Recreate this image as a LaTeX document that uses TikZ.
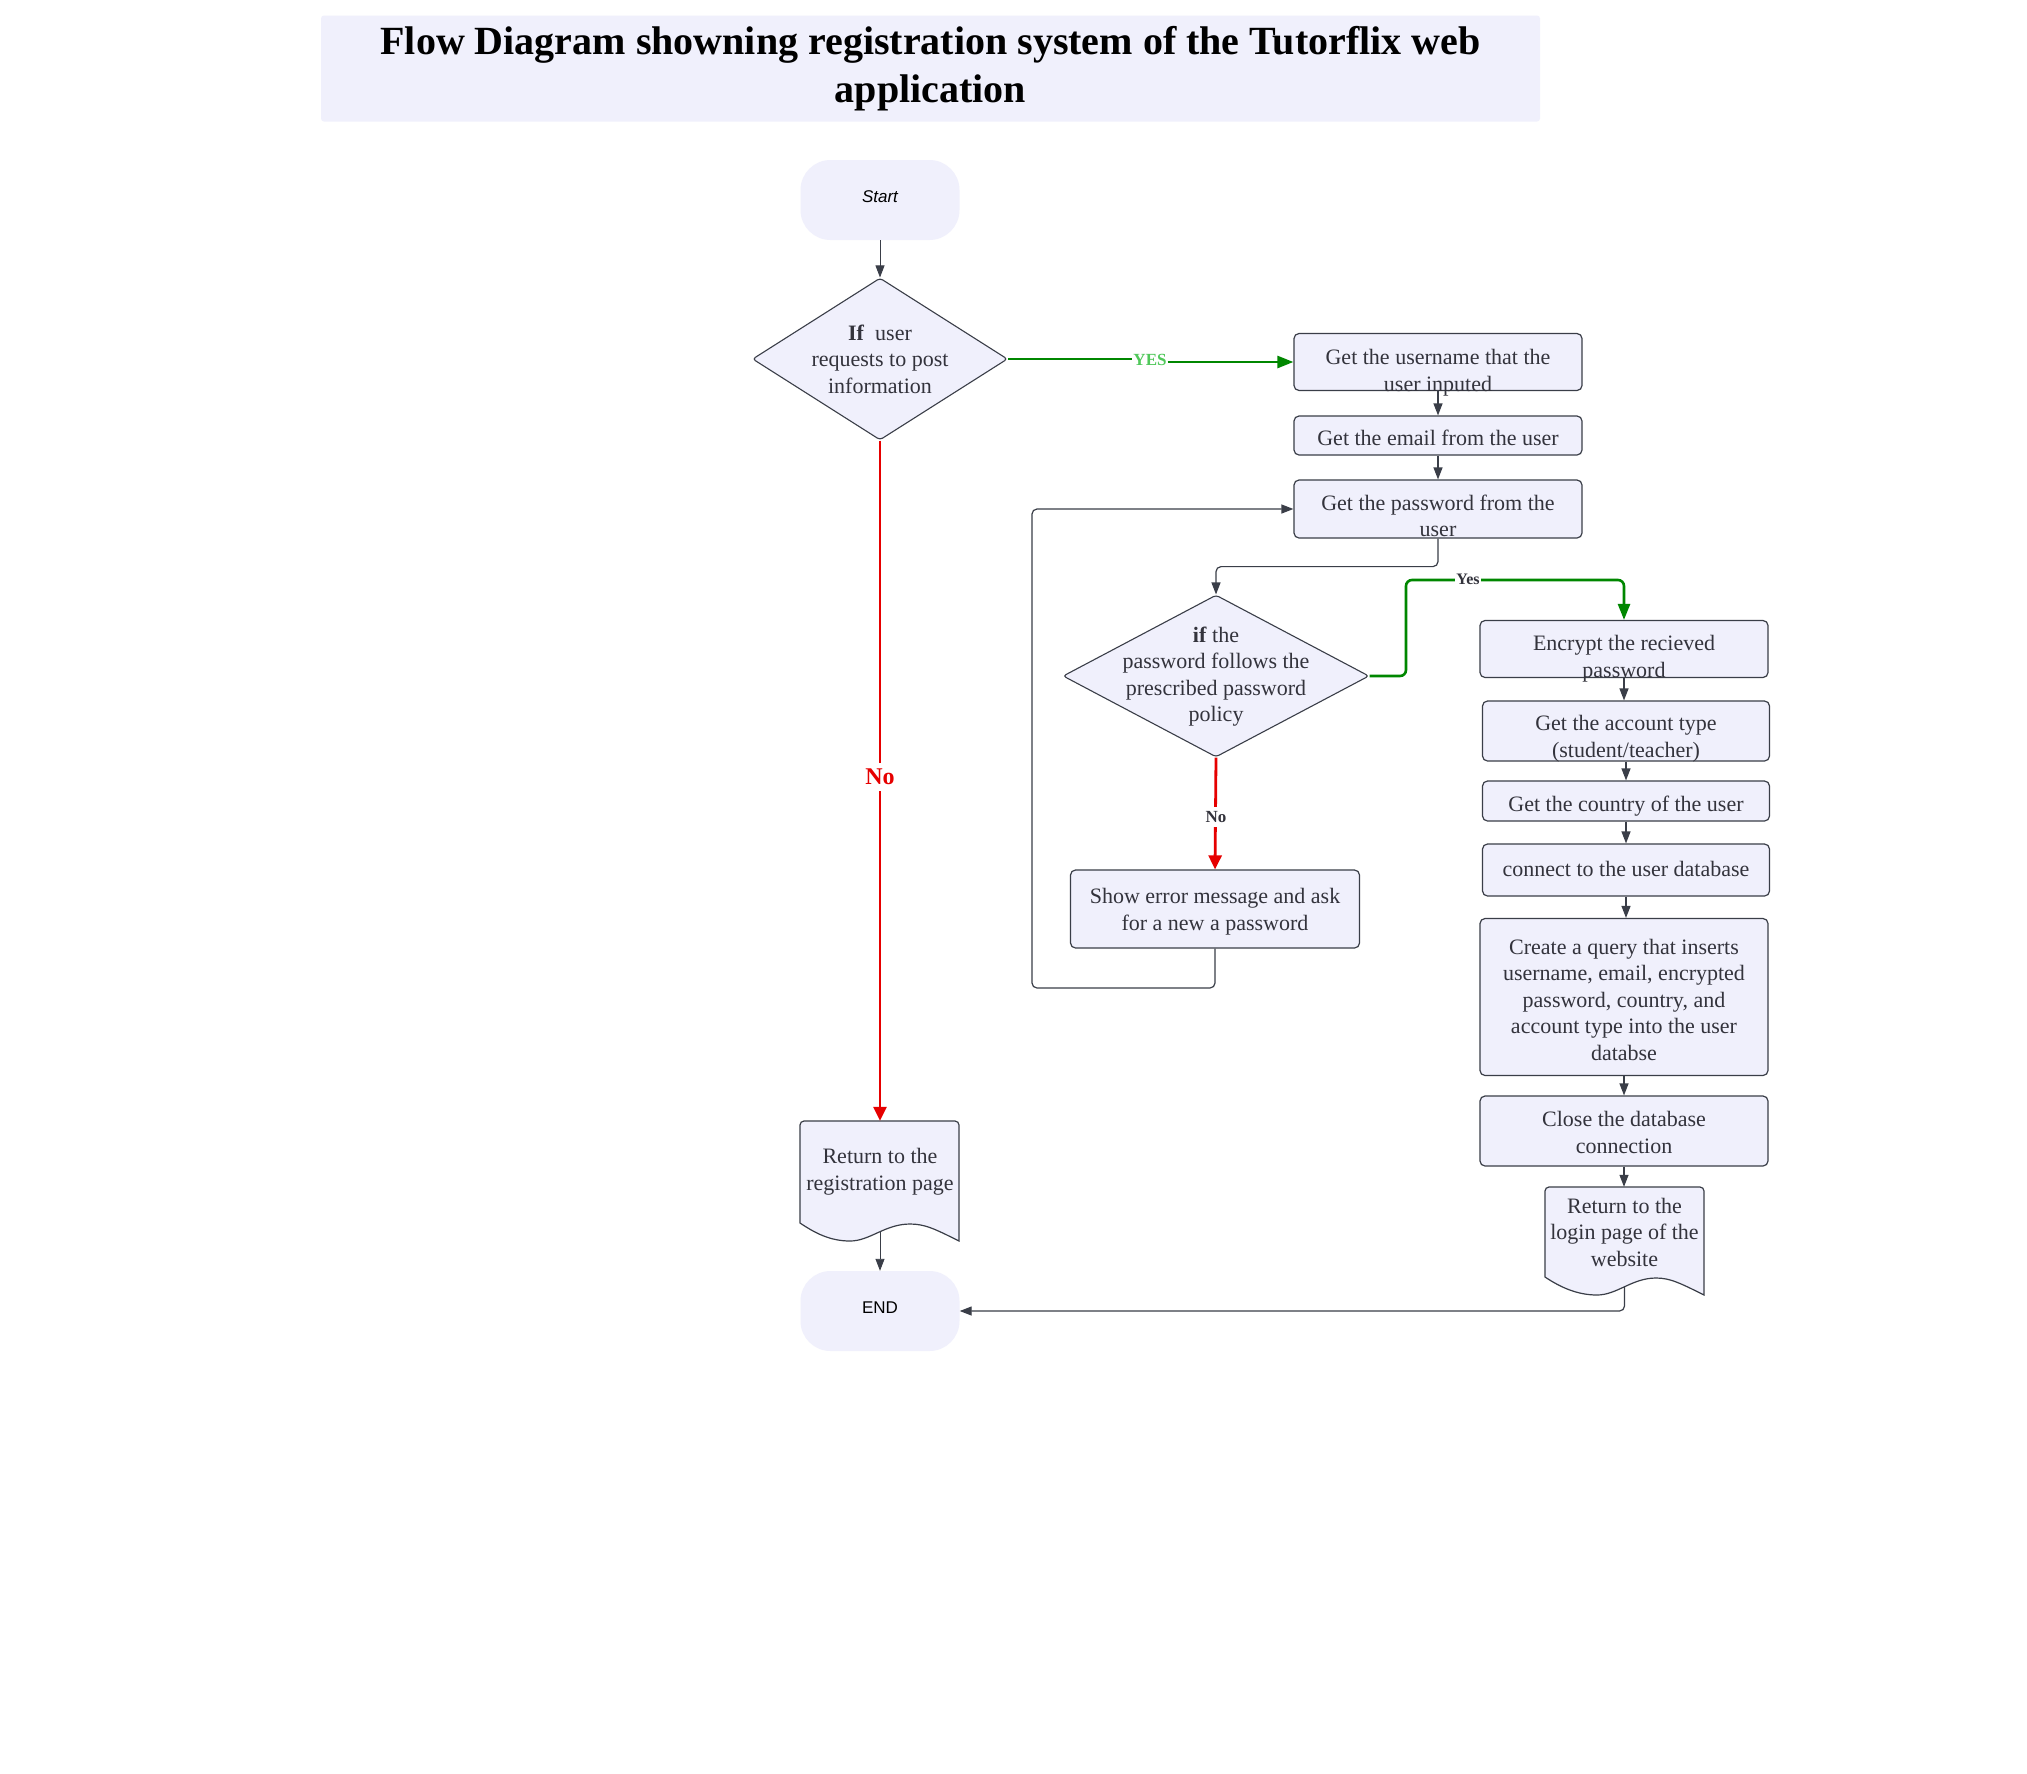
\documentclass[tikz,border=0pt]{standalone}
\usepackage{fontspec}
\setmainfont{Liberation Serif}
\setsansfont{Liberation Sans}
\usetikzlibrary{shapes.geometric,arrows.meta,calc}
\definecolor{boxfill}{RGB}{240,240,252}
\definecolor{bord}{RGB}{58,62,72}
\definecolor{txt}{RGB}{51,51,60}
\definecolor{ygreen}{RGB}{0,135,0}
\definecolor{ylabel}{RGB}{80,200,90}
\definecolor{nred}{RGB}{230,0,0}
\tikzset{
 base/.style={font=\fontsize{22}{26.5}\selectfont, text=txt, align=center, inner sep=0pt},
 proc/.style={rectangle, rounded corners=5pt, draw=bord, fill=boxfill, line width=1.2pt, inner sep=0pt},
 term/.style={rectangle, rounded corners=30pt, fill=boxfill, draw=none, minimum width=159pt, minimum height=80pt, inner sep=0pt},
 termtext/.style={text=black, inner sep=0pt},
 decision/.style={diamond, draw=bord, fill=boxfill, line width=1.1pt, inner sep=0pt, rounded corners=3pt},
 docbox/.style={rectangle, draw=none, minimum width=159pt, inner sep=0pt},
 docshape/.style={draw=bord, fill=boxfill, line width=1.2pt},
 conn/.style={draw=bord, line width=1.2pt, -{Triangle[length=12pt,width=9pt]}, rounded corners=5pt},
 thinconn/.style={conn, line width=0.9pt},
 yesline/.style={draw=ygreen, line width=2.6pt, rounded corners=6pt},
 yesconn/.style={yesline, -{Triangle[length=16pt,width=12pt]}},
 noconn/.style={draw=nred, line width=2.8pt, -{Triangle[length=14pt,width=13pt]}},
 lab/.style={font=\bfseries\fontsize{16}{18}\selectfont, text=txt, fill=white, inner xsep=1pt, inner ysep=4pt},
 titlebox/.style={fill=boxfill, rounded corners=3pt, minimum width=1219pt, minimum height=106pt, align=center, font=\bfseries\fontsize{40}{48}\selectfont, text=black, inner sep=0pt},
}
\begin{document}
\begin{tikzpicture}[x=1pt,y=-1pt]
\useasboundingbox[fill=white] (0,0) rectangle (2027,1773);
% title
\node[titlebox] (title) at (930.5,68.5) {Flow Diagram showning registration system of the Tutorflix web\\application};
% terminals
\node[term, label={[termtext, yshift=3.5pt, font=\sffamily\itshape\fontsize{17}{20}\selectfont]center:Start}] (start) at (880,200) {};
\node[term, label={[termtext, yshift=3pt, font=\sffamily\fontsize{17}{20}\selectfont]center:END}] (end) at (880,1311) {};
% decisions
\node[decision, minimum width=255pt, minimum height=162pt,
  label={[base]center:{\textbf{If}\ \ user\\requests to post\\information}}] (d1) at (880,359) {};
\node[decision, minimum width=306pt, minimum height=162pt,
  label={[base,yshift=-0.5pt]center:{\textbf{if} the\\password follows the\\prescribed password\\policy}}] (d2) at (1216,676) {};
% process boxes
\node[proc, minimum width=288pt, minimum height=57pt,
  label={[base,yshift=-10.5pt]center:{Get the username that the\\user inputed}}] (u1) at (1438,362) {};
\node[proc, minimum width=288pt, minimum height=39pt,
  label={[base,yshift=-2.6pt]center:{Get the email from the user}}] (u2) at (1438,435.5) {};
\node[proc, minimum width=288pt, minimum height=58pt,
  label={[base,yshift=-7pt]center:{Get the password from the\\user}}] (u3) at (1438,509) {};
\node[proc, minimum width=289pt, minimum height=78pt,
  label={[base,yshift=-2.6pt]center:{Show error message and ask\\for a new a password}}] (err) at (1215,909) {};
\node[proc, minimum width=288pt, minimum height=57pt,
  label={[base,yshift=-9.5pt]center:{Encrypt the recieved\\password}}] (e1) at (1624,649) {};
\node[proc, minimum width=287pt, minimum height=60pt,
  label={[base,yshift=-7.5pt]center:{Get the account type\\(student/teacher)}}] (e2) at (1626,731) {};
\node[proc, minimum width=287pt, minimum height=40pt,
  label={[base,yshift=-5pt]center:{Get the country of the user}}] (e3) at (1626,801) {};
\node[proc, minimum width=287pt, minimum height=52pt,
  label={[base,yshift=1pt]center:{connect to the user database}}] (e4) at (1626,870) {};
\node[proc, minimum width=288pt, minimum height=157pt,
  label={[base,yshift=-2.6pt]center:{Create a query that inserts\\username, email, encrypted\\password, country, and\\account type into the user\\databse}}] (e5) at (1624,997) {};
\node[proc, minimum width=288pt, minimum height=70pt,
  label={[base,yshift=-1.3pt]center:{Close the database\\connection}}] (e6) at (1624,1131) {};
% documents
\path[docshape] [rounded corners=4pt] (800,1223) -- (800,1121) -- (959,1121) [sharp corners] -- (959,1241)
  .. controls (935,1229) and (925,1224) .. (910,1224)
  .. controls (885,1224) and (870,1241) .. (850,1241)
  .. controls (830,1241) and (815,1233) .. (800,1223) -- cycle;
\node[docbox, minimum height=111pt,
  label={[base,yshift=5pt]center:{Return to the\\registration page}}] (reg) at (880,1176.5) {};
\path[docshape] [rounded corners=4pt] (1545,1277) -- (1545,1187) -- (1704,1187) [sharp corners] -- (1704,1295)
  .. controls (1680,1283) and (1670,1278) .. (1656,1278)
  .. controls (1632,1278) and (1617,1295) .. (1597,1295)
  .. controls (1577,1295) and (1560,1287) .. (1545,1277) -- cycle;
\node[docbox, minimum height=100pt,
  label={[base,yshift=5pt]center:{Return to the\\login page of the\\website}}] (login) at (1624.5,1237) {};
% connectors
\draw[thinconn] (start.south) -- (d1.north);
\node[lab, text=ylabel, font=\bfseries\fontsize{17}{18}\selectfont] (yes1) at (1150,360) {YES};
\draw[yesline] (d1.east) -- (d1.east -| yes1.west);
\draw[yesconn] (yes1.east |- u1.west) -- (u1.west);
\draw[conn] (u1.south) -- (u2.north);
\draw[conn] (u2.south) -- (u3.north);
\draw[conn] (u3.south) -- ++(0,28) -| (d2.north);
\coordinate (yesc) at (1406,580);
\draw[yesconn] (d2.east) -| (yesc) -| (e1.north);
\node[lab] (yes2) at (1468,579) {Yes};
\draw[noconn] (d2.south) -- (err.north);
\node[lab, font=\bfseries\fontsize{17}{18}\selectfont] (no2) at (1216,817) {No};
\coordinate (loopc) at (1032,988);
\draw[conn] (err.south) |- (loopc) |- (u3.west);
\draw[conn] (e1.south) -- (e1.south |- e2.north);
\draw[conn] (e2.south) -- (e2.south |- e3.north);
\draw[conn] (e3.south) -- (e3.south |- e4.north);
\draw[conn] (e4.south) -- (e4.south |- e5.north);
\draw[conn] (e5.south) -- (e5.south |- e6.north);
\draw[conn] (e6.south) -- (e6.south |- login.north);
\draw[noconn] (d1.south) -- (reg.north);
\node[lab, text=nred, inner ysep=6pt, font=\bfseries\fontsize{24}{26}\selectfont] (no1) at (880,777) {No};
\draw[thinconn] (reg.south) -- (end.north);
\draw[conn] (login.south) |- (end.east);
\end{tikzpicture}
\end{document}
